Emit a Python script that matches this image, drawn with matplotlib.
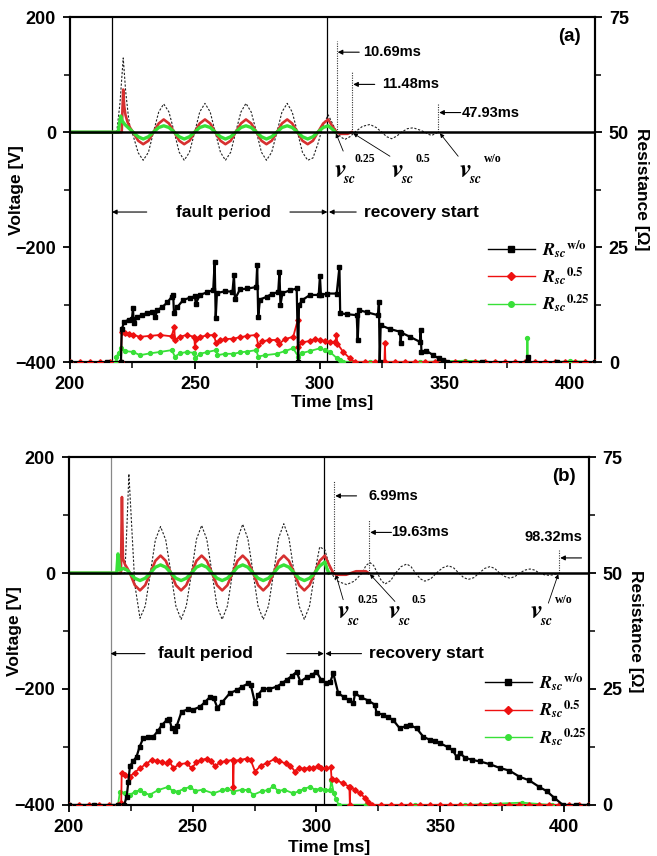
import numpy as np
import matplotlib.pyplot as plt
from matplotlib.ticker import MultipleLocator
from matplotlib.lines import Line2D

plt.rcParams['font.family'] = ['Liberation Sans', 'DejaVu Sans']
plt.rcParams['font.weight'] = 'bold'
plt.rcParams['axes.labelweight'] = 'bold'
plt.rcParams['mathtext.fontset'] = 'stix'

# ---------------- panel (a) voltage ----------------
t_grid_a = [225.2, 227.3, 229.3, 231.4, 233.4, 235.5, 237.5, 239.6, 241.7, 243.7,
            245.7, 247.8, 249.9, 251.9, 254.0, 256.1, 258.1, 260.2, 262.2, 264.3,
            266.3, 268.4, 270.4, 272.5, 274.6, 276.6, 278.6, 280.7, 282.8, 284.8,
            286.9, 288.9, 291.0, 293.0, 295.1, 297.2, 299.2, 301.3, 303.3]
v_red_a = [0, -15, -21, -15, 0, 15, 22, 15, 0, -15, -21, -15, 0, 15, 22, 15,
           0, -15, -21, -15, 0, 15, 22, 15, 0, -15, -21, -15, 0, 15, 22, 15,
           0, -15, -21, -15, 0, 15, 22]
v_green_a = [0, -8, -12, -8, 0, 8, 11, 8, 0, -8, -12, -8, 0, 8, 11, 8,
             0, -8, -12, -8, 0, 8, 11, 8, 0, -8, -12, -8, 0, 8, 11, 8,
             0, -8, -12, -8, 0, 8, 11]
v_wo_a = [-5, -36, -49, -35, 0, 35, 49, 35, 0, -35, -49, -35, 0, 35, 50, 35,
          0, -35, -49, -35, 0, 35, 50, 35, 0, -35, -49, -35, 0, 35, 50, 35,
          0, -35, -49, -45, -20, 12, 30]

t_red_on_a = [200, 220.7, 221.0, 221.3, 221.7, 222.2, 223.0, 224.0]
v_red_on_a = [0, 0, 40, 74, 45, 30, 18, 8]
t_red_off_a = [305.0, 306.7, 308.0, 311.0, 312.7]
v_red_off_a = [10, 0, -3, -3, 0]
t_green_on_a = [200, 219.3, 219.8, 220.3, 220.8, 222.0, 223.5]
v_green_on_a = [0, 0, 15, 28, 20, 13, 7]
t_green_off_a = [305.0, 306.2]
v_green_off_a = [5, 0]
t_wo_on_a = [200, 218.7, 220.0, 221.3, 222.3, 223.3, 224.3]
v_wo_on_a = [0, 0, 50, 129, 70, 30, 0]
t_wo_off_a = [305.0, 306.7, 308.5, 310.0, 312.0, 314.0, 317.0, 320.0, 322.5, 324.7,
              326.7, 328.7, 330.7, 332.7, 335.0, 337.3, 339.7, 342.0, 343.5, 344.7,
              346.0, 347.3]
v_wo_off_a = [15, 0, -9, -12.7, -8, 0, 10, 13.3, 8, 0,
              -8, -11.5, -7, 0, 6, 7.5, 4, 0, -4, -5.8, -3, 0]

# ---------------- panel (a) resistance ----------------
t_rwo_a = [200, 215, 220.4, 220.7, 221.8, 223.5, 224.8, 225.2, 225.5, 227, 229, 231, 233,
           234, 235, 237, 239, 240.7, 241.3, 241.6, 243, 245.3, 248, 250, 250.3, 252,
           255, 257.3, 257.9, 258.3, 258.8, 262, 265, 265.6, 266, 268, 271, 274.5,
           274.9, 275.3, 276, 278.7, 281, 283.3, 283.8, 284.2, 285, 288, 290.7, 291.3,
           291.6, 293, 296, 299.5, 300, 300.4, 303, 306.7, 307.8, 308.1, 311, 314.7,
           315.1, 315.6, 319, 323.2, 323.6, 323.9, 324.3, 328, 332, 332.3, 332.6, 336,
           340, 340.3, 340.6, 342.5, 345.3, 347.5, 349.3, 351, 365, 382.8, 383.1, 383.4,
           395, 410]
r_wo_a = [0, 0, 0, 7.2, 8.8, 9.2, 9.4, 11.7, 8.5, 9.8, 10.3, 10.7, 10.9,
          9.8, 11.3, 12.0, 13.0, 14.2, 14.5, 10.6, 12.0, 13.5, 14.0, 14.3, 12.7, 14.6,
          15.2, 15.7, 21.8, 9.6, 15.0, 15.4, 15.3, 18.9, 13.7, 15.8, 16.0, 16.3,
          21.0, 9.8, 13.6, 14.2, 14.9, 15.2, 19.6, 12.4, 15.0, 15.6, 16.0, 0,
          12.4, 13.5, 14.6, 14.6, 18.7, 14.6, 14.9, 14.9, 20.7, 10.6, 10.4, 10.2,
          4.8, 11.3, 10.8, 10.2, 13.1, 0, 8.0, 7.2, 6.6, 4.2, 6.4, 5.5,
          4.4, 7.0, 2.2, 2.5, 1.5, 0.8, 0.4, 0, 0, 0, 1.2, 0,
          0, 0]
t_r05_a = [200, 204, 208, 212, 216, 220.4, 220.7, 222, 223.5, 225.3, 228, 232, 236, 240.7,
           241.7, 242, 244, 246.7, 249.7, 250, 250.5, 252, 255, 257.5, 258.5, 260, 262,
           265.3, 268, 271, 274.5, 275.3, 277, 279.5, 282.7, 283.5, 286, 289.3, 291.1,
           291.4, 293, 296, 298, 300, 302, 304, 306.2, 306.6, 307, 309.3, 312, 314, 318,
           322, 325.8, 326, 326.2, 330, 334, 338, 342, 346, 350, 354, 358, 362, 366, 370,
           374, 378, 382, 386, 390, 394, 398, 402, 406, 410]
r_05_a = [0, 0, 0, 0, 0, 0, 6.6, 6.3, 6.0, 5.9, 5.5, 5.7, 5.9, 5.6,
          7.7, 4.8, 5.5, 5.9, 5.5, 3.3, 5.0, 5.5, 5.8, 5.9, 4.1, 4.8, 5.0,
          5.1, 5.4, 5.7, 5.9, 3.7, 4.5, 4.8, 4.8, 3.9, 5.0, 5.5, 9.1,
          3.3, 4.3, 4.6, 5.0, 4.8, 4.6, 4.4, 4.4, 5.9, 4.0, 2.2, 0.8, 0, 0,
          0, 0, 4.1, 0, 0, 0, 0, 0, 0, 0, 0, 0, 0, 0, 0,
          0, 0, 0, 0, 0, 0, 0, 0, 0, 0]
t_r025_a = [200, 216, 218.3, 218.6, 219.5, 220.5, 222, 225.3, 228, 232, 236, 240.7, 242,
            244, 246.7, 249.7, 250, 252, 255, 258.5, 259, 262, 265.3, 268, 271, 274.5,
            275.3, 278, 282.7, 286, 289.3, 291.3, 293, 296, 300, 302, 304, 306.7, 308,
            309.3, 320, 340, 358, 370, 382.8, 383.0, 383.2, 395, 400, 410]
r_025_a = [0, 0, 0, 1.2, 2.0, 3.0, 2.4, 2.2, 1.5, 1.9, 2.2, 2.6, 1.2,
           1.9, 2.2, 2.0, 0.8, 1.8, 2.2, 2.6, 1.5, 1.8, 1.8, 2.1, 2.3, 2.6,
           1.2, 1.5, 1.8, 2.4, 3.0, 1.2, 2.0, 2.4, 3.0, 2.6, 2.2, 0.9, 0.4,
           0, 0, 0, 0.3, 0, 0, 5.2, 0, 0, 0.2, 0]

# ---------------- panel (b) voltage ----------------
t_grid_b = [224.6, 226.6, 228.7, 230.8, 232.9, 234.9, 237.0, 239.1, 241.2, 243.2,
            245.3, 247.4, 249.5, 251.5, 253.6, 255.7, 257.8, 259.8, 261.9, 264.0,
            266.1, 268.1, 270.2, 272.3, 274.4, 276.4, 278.5, 280.6, 282.7, 284.7,
            286.8, 288.9, 291.0, 293.0, 295.1, 297.2, 299.3, 301.3, 303.4]
v_red_b = [0, -21, -30, -21, 0, 21, 30, 21, 0, -21, -30, -21, 0, 21, 30, 21,
           0, -21, -30, -21, 0, 21, 30, 21, 0, -21, -30, -21, 0, 21, 30, 21,
           0, -21, -30, -21, 0, 21, 30]
v_green_b = [0, -9, -13, -9, 0, 10, 14, 10, 0, -9, -13, -9, 0, 10, 14, 10,
             0, -9, -13, -9, 0, 10, 14, 10, 0, -9, -13, -9, 0, 10, 14, 10,
             0, -9, -13, -9, 0, 12, 19]
v_wo_b = [140, -20, -78, -57, 0, 57, 80, 57, 0, -57, -80, -57, 0, 58, 82, 58,
          0, -57, -80, -57, 0, 59, 84, 59, 0, -57, -80, -57, 0, 60, 85, 60,
          0, -57, -80, -57, 0, 45, 40]

t_red_on_b = [200, 221.0, 221.4, 221.8, 222.6, 223.6]
v_red_on_b = [0, 0, 131, 25, 15, 8]
t_red_off_b = [305.0, 306.8, 308.0, 312.0, 314.0, 316.0, 320.0, 321.0]
v_red_off_b = [15, 0, -3, -3, 0, 3, 3, 0]
t_green_on_b = [200, 219.3, 219.8, 220.6, 222.0, 223.5]
v_green_on_b = [0, 0, 33, 5, 8, 5]
t_green_off_b = [304.2, 305.0]
v_green_off_b = [8, 0]
t_wo_on_b = [200, 222.6, 223.5, 224.2]
v_wo_on_b = [0, 0, 90, 171]
t_wo_off_b = [306.1, 307.6, 309.0, 312.2, 315.3, 318.5, 320.0, 321.6, 323.1, 324.6,
              326.2, 327.7, 330.0, 332.0, 334.2, 336.5, 338.2, 340.0, 342.0, 343.8,
              346.2, 348.5, 351.0, 353.3, 355.4, 357.5, 359.5, 361.4, 363.6, 365.8,
              368.0, 370.1, 372.0, 374.0, 376.1, 378.2, 380.2, 382.2, 384.2, 386.3,
              388.2, 390.0, 392.0, 394.0, 395.9, 397.7]
v_wo_off_b = [0, -11, -15, -20, -14, 0, 13, 18, 13, 0,
              -13, -19, -13, 0, 11, 15.5, 11, 0, -10, -14,
              -10, 0, 9, 12.6, 9, 0, -8, -11, -8, 0,
              8, 11, 8, 0, -6, -9, -6, 0, 5, 6.9,
              5, 0, -3, -4, -3, 0]

# ---------------- panel (b) resistance ----------------
t_rwo_b = [200, 210, 220, 222.3, 223.3, 224, 224.6, 226, 227.3, 228.5, 230, 232, 234, 236,
           237.5, 239.5, 240.5, 241.5, 243, 243.5, 245.5, 248, 250, 253, 255, 257, 258.5,
           260, 262, 265, 268, 270, 272.4, 273.5, 275.2, 276.5, 278.5, 281, 283.9, 286,
           288, 290, 292, 293.5, 296, 298, 300, 302, 304, 305.5, 306.8, 308.8, 311, 313,
           314.9, 315.6, 318, 321, 323.6, 324.3, 327, 329, 331, 333.7, 336, 338, 340.5,
           343.2, 346, 348, 350, 353, 355, 356.7, 358, 360, 363, 366, 370, 374, 378, 382,
           386, 390, 393, 396, 399.6, 405, 410]
r_wo_b = [0, 0, 0, 0, 1.8, 5.0, 8.3, 9.5, 10.4, 12.5, 14.4, 14.7, 14.7, 16.0,
          17.2, 18.3, 18.6, 16.6, 16.0, 17.0, 20.1, 20.6, 20.5, 21.2, 22.2, 23.3, 23.0,
          20.9, 22.2, 24.1, 24.8, 25.5, 26.2, 25.8, 21.9, 23.8, 25.1, 25.0, 25.5, 26.2,
          27.0, 27.8, 28.7, 26.6, 27.5, 28.0, 28.7, 26.9, 26.3, 26.4, 28.4, 24.1, 23.3, 22.6,
          21.9, 24.1, 23.2, 22.5, 21.6, 19.8, 19.5, 18.9, 18.3, 16.5, 17.0, 17.2, 16.5,
          14.7, 14.0, 13.8, 13.3, 12.5, 11.8, 10.4, 11.2, 10.2, 9.7, 9.4, 8.8, 8.0, 7.4, 6.1,
          5.3, 3.9, 3.0, 1.6, 0, 0, 0]
t_r05_b = [200, 204, 208, 212, 216, 220, 221.1, 221.3, 222.6, 224.6, 226.5, 228.7, 231,
           233.4, 235.5, 237.5, 239.5, 240.5, 242.2, 244.5, 247.5, 249.6, 251.5, 253.5,
           255.6, 257.5, 259, 261, 263.5, 266.2, 266.4, 266.6, 269, 271.8, 273.5, 275.2,
           277.5, 279.9, 283.3, 285, 287.5, 289.5, 291.3, 293, 295, 297, 298.7, 300.5, 302,
           304, 305.8, 306.1, 308, 310.8, 313.3, 313.5, 313.7, 315.5, 317.6, 319.5, 321,
           322.5, 326, 330, 334, 338, 342, 346, 350, 354, 358, 362, 366, 370, 374, 378,
           382, 386, 390, 394, 398, 402, 406, 410]
r_05_b = [0, 0, 0, 0, 0, 0, 0.4, 6.8, 6.5, 6.1, 7.0, 7.9, 8.8,
          9.7, 9.5, 9.3, 9.0, 9.5, 7.9, 8.8, 9.0, 7.9, 9.2, 9.7,
          10.0, 9.5, 8.3, 9.2, 9.5, 9.7, 3.9, 9.5, 9.7, 10.0, 9.6, 7.2,
          8.5, 9.0, 10.0, 9.4, 9.0, 8.5, 7.2, 8.0, 7.8, 8.0, 7.9, 8.3, 8.0,
          7.9, 8.1, 5.7, 5.3, 4.7, 3.9, 0, 3.9, 3.2, 2.5, 1.6, 0.7,
          0, 0, 0, 0, 0, 0, 0, 0, 0, 0, 0, 0, 0, 0, 0,
          0, 0, 0, 0, 0, 0, 0, 0]
t_r025_b = [200, 210, 219.8, 220.6, 222.5, 224.6, 226.5, 228.6, 230.5, 232.6, 236, 240,
            242, 244, 246.5, 249, 251, 254, 258.3, 262, 264, 266.4, 270, 272.5, 274.5,
            278, 280.5, 282.6, 284.5, 287, 290.6, 293, 295, 297.4, 299.5, 301.5, 303.5,
            305.5, 306, 307, 308, 309, 320, 340, 360, 383, 395, 410]
r_025_b = [0, 0, 0, 2.9, 2.6, 2.2, 2.8, 3.2, 2.6, 2.2, 3.2, 3.9,
           3.0, 2.9, 3.5, 3.9, 3.0, 3.3, 2.5, 3.2, 3.5, 2.9, 3.3, 3.2, 2.2,
           3.0, 3.2, 4.1, 3.0, 3.3, 2.5, 3.0, 3.5, 3.9, 3.3, 3.5, 3.3,
           3.2, 5.4, 2.5, 1.2, 0, 0, 0, 0, 0.5, 0, 0]

# ---------------- annotations ----------------
fault_t = 216.8
recov_t = 303.0
marks_a = [(306.7, 158, 139, 317.3, '10.69ms'), (312.9, 106, 83, 324.7, '11.48ms'),
           (347.3, 51, 34, 356.7, '47.93ms')]
marks_b = [(307.2, 158, 133, 320.9, '6.99ms'), (321.3, 92, 70, 330.0, '19.63ms'),
           (398.1, 40, 26, 407.6, '98.32ms')]
vsc_a = [(308.0, '0.25', 306.4, 309.3, -33), (331.0, '0.5', 313.3, 328.0, -42),
         (358.3, 'w/o', 348.0, 355.3, -42)]
vsc_b = [(310.8, '0.25', 307.8, 310.8, -46), (331.4, '0.5', 321.6, 331.7, -49),
         (389.0, 'w/o', 397.7, 393.7, -52)]

VRED = '#d63030'
RRED = '#ee1010'
GREEN = '#38e038'


def panel(rect, tag, tv, rdata, marks, vsc, fault_text_x, recov_arrow_tail, fault_col,
          lab_dy, ylab_dx, leg_xy):
    ax = fig.add_axes(rect)
    ax2 = ax.twinx()
    (t_on_w, v_on_w, t_g, v_w, t_off_w, v_off_w,
     t_on_r, v_on_r, v_r, t_off_r, v_off_r,
     t_on_g, v_on_g, v_gr, t_off_g, v_off_g) = tv
    ax.plot(t_on_w + t_g + t_off_w, v_on_w + v_w + v_off_w,
            color='#222222', lw=0.8, ls=(0, (2, 1.5)), zorder=3)
    ax.plot(t_on_r + t_g + t_off_r, v_on_r + v_r + v_off_r, color=VRED, lw=1.9, zorder=4)
    ax.plot(t_on_g + t_g + t_off_g, v_on_g + v_gr + v_off_g, color=GREEN, lw=2.4, zorder=5)
    ax.axhline(0, color='k', lw=1.8, zorder=6)
    ax.axvline(fault_t, color=fault_col, lw=0.9, zorder=2)
    ax.axvline(recov_t, color='k', lw=0.9, zorder=2)

    # fault period / recovery start
    yf = -139
    arw = dict(arrowstyle='-|>', lw=0.8, color='k', mutation_scale=7, shrinkA=0, shrinkB=0)
    ax.annotate('', xy=(fault_t, yf), xytext=(230.7, yf), arrowprops=arw)
    ax.annotate('', xy=(recov_t, yf), xytext=(288.0, yf), arrowprops=arw)
    ax.annotate('', xy=(recov_t + 0.6, yf), xytext=(recov_arrow_tail, yf), arrowprops=arw)
    ax.text(fault_text_x, yf, 'fault period', ha='center', va='center', fontsize=12.5)
    ax.text(recov_arrow_tail + 3, yf, 'recovery start', ha='left', va='center', fontsize=12.5)

    for x, top, ya, xt, lab in marks:
        ax.plot([x, x], [0, top], color='#333333', lw=0.8, ls=(0, (1, 1.2)), zorder=3)
        ax.annotate('', xy=(x + 0.4, ya), xytext=(x + 9, ya), arrowprops=arw)
        if lab == '98.32ms':
            ax.text(xt, ya + 36, lab, ha='right', va='center', fontsize=10.5)
        else:
            ax.text(xt, ya, lab, ha='left', va='center', fontsize=10.5)

    for xv, sup, xh, xtail, ytail in vsc:
        ax.text(xv, -66, r'$v$', ha='center', va='center', fontsize=19)
        ax.text(xv + 4, -82, r'$sc$', ha='center', va='center', fontsize=10)
        ax.text(xv + 10 if sup != 'w/o' else xv + 11, -47, sup, ha='center', va='center',
                fontsize=8.5, family='Liberation Serif')
        ax.annotate('', xy=(xh, -2), xytext=(xtail, ytail),
                    arrowprops=dict(arrowstyle='-|>', lw=0.6, color='k',
                                    mutation_scale=6, shrinkA=0, shrinkB=0))

    ax.text(400, 166, tag, ha='center', va='center', fontsize=13.5)

    (t_w, r_w, t_5, r_5, t_25, r_25) = rdata
    ax2.plot(t_w, r_w, color='k', lw=1.6, marker='s', ms=3, zorder=5)
    ax2.plot(t_5, r_5, color=RRED, lw=1.3, marker='D', ms=2.8, zorder=4)
    ax2.plot(t_25, r_25, color=GREEN, lw=1.3, marker='o', ms=2.8, zorder=3)

    ax.set_xlim(200, 410)
    ax.set_ylim(-400, 200)
    ax2.set_ylim(0, 75)
    ax.xaxis.set_major_locator(MultipleLocator(50))
    ax.xaxis.set_minor_locator(MultipleLocator(25))
    ax.yaxis.set_major_locator(MultipleLocator(200))
    ax.yaxis.set_minor_locator(MultipleLocator(100))
    ax2.yaxis.set_major_locator(MultipleLocator(25))
    ax2.yaxis.set_minor_locator(MultipleLocator(12.5))
    for a in (ax, ax2):
        a.tick_params(which='major', direction='out', length=5, width=1.3, labelsize=13, pad=5)
        a.tick_params(which='minor', direction='out', length=4, width=1.1)
        for s in a.spines.values():
            s.set_linewidth(1.5)
    ax.tick_params(axis='x', pad=5)
    ax.set_xlabel('Time [ms]', fontsize=12.5, fontweight='bold')
    ax.xaxis.set_label_coords(0.5, lab_dy)
    ax.set_ylabel('Voltage [V]', fontsize=12.5, fontweight='bold')
    ax.yaxis.set_label_coords(ylab_dx, 0.5)
    ax2.set_ylabel('Resistance [\u03a9]', fontsize=12.5, fontweight='bold', rotation=270,
                   va='bottom')
    ax2.yaxis.set_label_coords(1.075, 0.5)

    handles = [Line2D([], [], color='k', lw=1, marker='s', ms=4),
               Line2D([], [], color=RRED, lw=1, marker='D', ms=4),
               Line2D([], [], color=GREEN, lw=1, marker='o', ms=4)]
    labels = [r'$R_{sc}{}^{\mathrm{w/o}}$', r'$R_{sc}{}^{\mathrm{0.5}}$',
              r'$R_{sc}{}^{\mathrm{0.25}}$']
    ax2.legend(handles, labels, loc='upper left', bbox_to_anchor=leg_xy,
               frameon=False, fontsize=13, handlelength=2.6, labelspacing=0.3,
               handletextpad=0.4, borderpad=0, borderaxespad=0)
    return ax


fig = plt.figure(figsize=(6.57, 8.56), dpi=100)

panel([0.1065, 0.577, 0.799, 0.403], '(a)',
      (t_wo_on_a, v_wo_on_a, t_grid_a, v_wo_a, t_wo_off_a, v_wo_off_a,
       t_red_on_a, v_red_on_a, v_red_a, t_red_off_a, v_red_off_a,
       t_green_on_a, v_green_on_a, v_green_a, t_green_off_a, v_green_off_a),
      (t_rwo_a, r_wo_a, t_r05_a, r_05_a, t_r025_a, r_025_a),
      marks_a, vsc_a, 261.3, 314.5, 'k', -0.095, -0.088, (0.796, 0.36))

panel([0.105, 0.0596, 0.791, 0.4065], '(b)',
      (t_wo_on_b, v_wo_on_b, t_grid_b, v_wo_b, t_wo_off_b, v_wo_off_b,
       t_red_on_b, v_red_on_b, v_red_b, t_red_off_b, v_red_off_b,
       t_green_on_b, v_green_on_b, v_green_b, t_green_off_b, v_green_off_b),
      (t_rwo_b, r_wo_b, t_r05_b, r_05_b, t_r025_b, r_025_b),
      marks_b, vsc_b, 255.3, 318.2, '#888888', -0.1, -0.09, (0.80, 0.385))

fig.savefig('out.png', dpi=100)
